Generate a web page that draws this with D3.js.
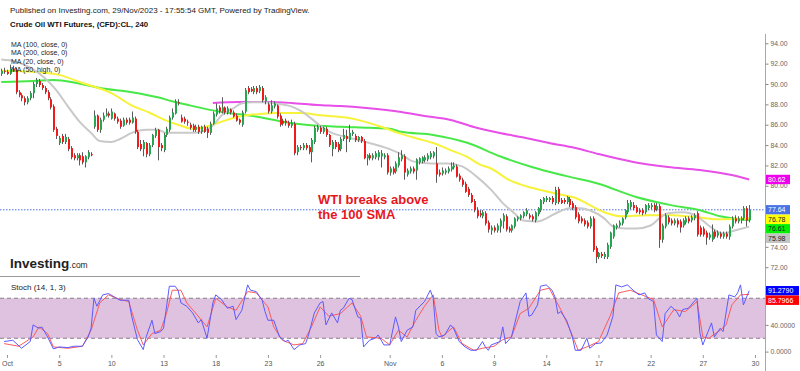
<!DOCTYPE html>
<html>
<head>
<meta charset="utf-8">
<script src="https://cdn.jsdelivr.net/npm/d3@7"></script>
<style>
  html, body { margin: 0; padding: 0; background: #fff; }
  svg { display: block; font-family: "Liberation Sans", Arial, sans-serif; }
</style>
</head>
<body>
<div id="chart"></div>
<script>
// 4h bars, bar 0 = first bar of Oct 2 (6 bars a day)
const firstBar = -2;

const open = [
  91.0, 91.3,
  91.2, 91.0, 91.5, 91.4, 89.2, 88.9,
  88.6, 88.2, 88.6, 89.1, 90.0, 90.3,
  89.9, 89.6, 89.2, 88.5, 87.8, 85.6,
  84.2, 84.9, 84.3, 84.6, 83.7, 83.0,
  82.7, 83.0, 82.9, 82.3, 82.8, 83.1,
  85.8, 86.9, 85.5, 86.5, 86.9, 87.1,
  86.6, 87.1, 86.6, 86.4, 85.9, 86.5,
  86.5, 86.2, 86.6, 85.3, 84.1, 83.6,
  84.2, 83.1, 84.0, 84.9, 85.5, 84.0,
  83.5, 85.0, 85.5, 86.7, 87.1, 88.2,
  86.7, 86.6, 86.3, 86.0, 85.9, 85.5,
  85.8, 85.3, 85.8, 85.6, 85.2, 86.1,
  87.0, 87.7, 87.3, 87.7, 87.2, 87.5,
  87.2, 86.9, 86.5, 86.0, 87.3, 89.6,
  89.5, 89.2, 89.6, 89.3, 89.6, 88.3,
  88.0, 87.3, 87.8, 87.9, 86.9, 86.4,
  86.4, 86.2, 85.9, 86.1, 83.3, 83.8,
  83.7, 84.0, 83.8, 83.3, 84.3, 85.5,
  85.7, 85.3, 85.6, 85.0, 83.6, 84.3,
  84.1, 83.6, 84.6, 84.9, 84.5, 85.1,
  84.9, 84.5, 84.8, 84.4, 82.7, 83.0,
  82.7, 82.8, 82.8, 82.9, 82.8, 83.0,
  81.3, 81.7, 81.4, 82.0, 82.6, 82.9,
  81.1, 81.4, 81.7, 81.5, 82.3, 82.4,
  82.5, 82.6, 82.8, 82.9, 82.2, 81.3,
  81.2, 81.3, 81.4, 81.6, 81.8, 81.9,
  81.0, 80.6, 80.2, 79.7, 79.1, 78.5,
  77.6, 77.3, 77.0, 77.3, 76.4, 75.6,
  75.9, 75.6, 76.0, 76.5, 77.0, 75.8,
  75.6, 76.0, 76.7, 76.8, 77.0, 77.2,
  77.1, 77.0, 76.6, 77.2, 77.6, 78.4,
  78.6, 78.6, 78.8, 78.3, 79.7, 78.6,
  78.6, 78.4, 78.7, 78.3, 77.9, 77.2,
  76.8, 76.6, 76.4, 76.0, 76.8, 73.9,
  73.0, 73.3, 73.0, 73.0, 74.0, 75.0,
  75.9, 76.1, 76.3, 76.9, 77.4, 77.9,
  78.1, 77.9, 77.6, 77.6, 77.4, 77.8,
  77.9, 78.1, 77.7, 78.0, 74.7, 76.0,
  76.9, 76.6, 76.3, 76.6, 76.5, 76.1,
  76.4, 76.8, 76.6, 76.8, 77.3, 75.9,
  75.8, 75.4, 74.9, 74.7, 75.5, 75.1,
  75.3, 75.0, 75.3, 75.0, 76.0, 76.8,
  76.5, 76.6, 76.8, 77.8, 76.6
];
const high = [
  91.5, 91.6,
  91.4, 91.9, 91.8, 91.6, 89.4, 89.1,
  88.8, 88.8, 89.3, 90.2, 90.6, 90.5,
  90.1, 89.8, 89.4, 88.7, 88.0, 85.8,
  84.9, 85.1, 85.1, 84.8, 83.9, 83.2,
  83.2, 83.2, 83.3, 83.0, 83.5, 83.3,
  87.4, 87.0, 86.7, 87.2, 87.6, 87.3,
  87.6, 87.2, 86.8, 86.6, 86.7, 86.7,
  86.7, 87.3, 86.8, 85.5, 84.5, 84.5,
  84.3, 84.2, 85.1, 85.7, 85.6, 84.2,
  85.2, 85.8, 86.9, 87.6, 88.5, 88.5,
  87.0, 86.8, 86.5, 86.2, 86.1, 86.0,
  86.0, 85.9, 86.0, 85.8, 86.3, 87.3,
  88.1, 87.9, 88.7, 87.8, 87.8, 87.6,
  87.4, 87.1, 86.6, 87.4, 89.6, 89.8,
  89.7, 89.8, 89.8, 89.9, 89.8, 88.9,
  88.2, 88.4, 88.3, 88.0, 87.1, 86.6,
  86.6, 86.4, 86.5, 86.3, 84.0, 84.0,
  84.2, 84.2, 84.0, 84.7, 85.9, 86.0,
  85.9, 85.8, 85.8, 85.1, 84.5, 84.5,
  84.3, 84.8, 85.6, 85.5, 86.0, 85.5,
  85.1, 84.9, 84.9, 84.6, 83.1, 83.2,
  83.2, 83.4, 83.5, 83.5, 83.2, 83.2,
  81.9, 81.9, 82.4, 83.3, 83.5, 83.1,
  81.7, 81.9, 81.9, 82.7, 82.8, 82.9,
  83.0, 83.2, 83.4, 83.4, 83.8, 81.6,
  81.8, 81.7, 81.9, 82.3, 82.3, 82.1,
  81.2, 80.8, 80.4, 79.9, 79.3, 78.7,
  77.9, 77.6, 77.6, 77.5, 76.6, 76.1,
  76.1, 76.3, 76.8, 77.3, 77.2, 76.0,
  76.2, 76.9, 77.0, 77.2, 77.5, 77.8,
  77.3, 77.2, 77.5, 77.9, 78.7, 78.9,
  79.0, 78.9, 79.0, 79.9, 79.9, 78.8,
  78.8, 79.0, 78.9, 78.5, 78.1, 77.4,
  77.0, 76.8, 76.6, 77.0, 77.0, 74.1,
  73.5, 73.5, 73.5, 74.4, 75.5, 76.2,
  76.3, 76.6, 76.9, 77.7, 78.6, 78.6,
  78.4, 78.1, 77.8, 77.8, 78.2, 78.3,
  78.3, 78.3, 78.3, 78.2, 76.3, 77.3,
  77.1, 76.8, 76.8, 76.8, 76.7, 76.8,
  77.0, 77.0, 77.1, 77.3, 77.5, 76.1,
  76.0, 75.6, 75.4, 76.2, 75.7, 75.6,
  75.5, 75.5, 75.5, 76.2, 77.0, 77.1,
  77.0, 77.0, 78.0, 78.0, 78.1
];
const low = [
  90.8, 91.0,
  90.9, 90.9, 91.2, 89.0, 88.7, 88.3,
  87.9, 88.0, 88.4, 88.6, 89.7, 89.7,
  89.4, 89.0, 88.4, 87.5, 85.3, 84.6,
  84.0, 84.1, 84.1, 83.4, 82.6, 82.5,
  82.5, 82.0, 82.1, 81.8, 82.6, 82.9,
  85.6, 85.3, 85.2, 86.3, 86.8, 86.7,
  86.5, 86.4, 86.1, 85.6, 85.8, 86.0,
  86.0, 86.1, 85.1, 83.6, 83.4, 82.9,
  82.8, 82.9, 83.8, 84.7, 82.5, 83.4,
  83.3, 84.8, 85.3, 86.5, 87.0, 87.9,
  86.2, 86.1, 85.9, 85.5, 85.3, 85.3,
  85.1, 85.1, 85.2, 84.7, 85.0, 86.0,
  86.8, 87.1, 87.1, 87.0, 87.0, 87.0,
  86.7, 86.3, 86.0, 85.8, 87.1, 89.0,
  89.2, 89.0, 89.0, 89.1, 88.2, 88.0,
  87.1, 87.1, 87.6, 86.6, 85.8, 85.9,
  85.9, 85.7, 85.7, 83.0, 83.0, 83.5,
  83.5, 83.5, 83.1, 82.3, 84.1, 85.3,
  85.1, 85.1, 84.8, 83.8, 82.9, 83.6,
  83.3, 83.4, 84.4, 83.3, 84.3, 84.9,
  84.3, 84.3, 84.2, 82.6, 82.0, 82.5,
  82.5, 82.6, 82.5, 81.8, 82.6, 81.1,
  81.0, 81.1, 81.2, 81.8, 82.4, 80.6,
  80.9, 81.2, 81.2, 80.6, 82.1, 82.2,
  82.3, 82.4, 82.6, 82.7, 80.3, 80.9,
  81.0, 81.1, 81.2, 81.4, 81.6, 80.8,
  80.4, 79.9, 79.3, 78.9, 78.3, 77.4,
  76.8, 76.9, 76.8, 76.1, 75.4, 75.2,
  75.4, 75.4, 75.4, 75.8, 75.5, 75.4,
  75.4, 75.8, 76.5, 76.6, 76.8, 77.0,
  76.7, 76.5, 76.4, 77.0, 77.4, 78.2,
  78.4, 78.4, 78.2, 78.1, 78.2, 78.2,
  78.2, 78.2, 77.9, 77.6, 76.7, 76.3,
  76.3, 76.0, 75.8, 75.8, 73.5, 72.4,
  72.8, 72.9, 72.8, 72.8, 73.8, 74.8,
  75.7, 75.9, 76.1, 76.7, 77.2, 77.7,
  77.6, 77.3, 77.2, 77.1, 77.2, 77.6,
  77.7, 77.4, 77.5, 73.9, 74.4, 75.8,
  76.2, 76.1, 76.1, 75.9, 75.4, 75.9,
  76.2, 76.3, 76.4, 76.6, 75.0, 75.0,
  75.0, 74.2, 74.7, 74.5, 74.8, 74.9,
  74.8, 74.8, 74.8, 74.7, 75.8, 76.3,
  76.3, 76.3, 76.6, 76.0, 76.4
];
const close = [
  91.3, 91.2,
  91.0, 91.5, 91.4, 89.2, 88.9, 88.6,
  88.2, 88.6, 89.1, 90.0, 90.4, 89.9,
  89.6, 89.2, 88.6, 87.7, 85.5, 84.9,
  84.7, 84.3, 84.8, 83.6, 82.8, 82.7,
  83.0, 82.5, 82.3, 82.9, 83.3, 83.0,
  86.9, 85.5, 86.5, 86.9, 87.1, 86.9,
  87.3, 86.6, 86.3, 85.8, 86.5, 86.2,
  86.2, 86.7, 85.3, 83.8, 83.6, 84.3,
  83.1, 84.0, 85.0, 85.5, 83.8, 83.7,
  85.0, 85.6, 86.7, 87.2, 88.3, 88.1,
  86.3, 86.3, 86.2, 85.7, 85.5, 85.8,
  85.3, 85.8, 85.3, 85.2, 86.1, 87.1,
  87.6, 87.3, 87.7, 87.2, 87.6, 87.2,
  86.8, 86.4, 86.2, 87.2, 89.4, 89.2,
  89.3, 89.6, 89.2, 89.7, 88.4, 88.7,
  87.3, 87.9, 88.1, 86.8, 86.0, 86.1,
  86.2, 85.9, 86.2, 83.2, 83.8, 83.7,
  84.0, 83.7, 83.3, 84.5, 85.7, 85.8,
  85.3, 85.7, 85.0, 84.0, 84.3, 83.8,
  83.5, 84.6, 85.0, 84.6, 85.2, 85.3,
  84.5, 84.8, 84.4, 82.7, 83.0, 82.7,
  83.0, 83.2, 83.3, 83.2, 83.0, 81.3,
  81.7, 81.3, 82.2, 82.8, 83.0, 81.3,
  81.5, 81.7, 81.4, 82.6, 82.7, 82.8,
  82.8, 83.0, 83.2, 83.3, 81.1, 81.1,
  81.5, 81.5, 81.7, 81.9, 82.0, 80.9,
  80.6, 80.1, 79.4, 79.1, 78.4, 77.6,
  77.0, 77.1, 77.4, 76.3, 75.7, 75.9,
  75.6, 76.1, 76.6, 77.1, 75.7, 75.6,
  76.1, 76.8, 76.9, 77.1, 77.4, 77.6,
  76.9, 76.7, 77.4, 77.8, 78.6, 78.8,
  78.8, 78.8, 78.4, 79.6, 78.4, 78.3,
  78.4, 78.9, 78.1, 77.8, 76.9, 76.5,
  76.5, 76.2, 76.0, 76.8, 73.7, 73.0,
  73.4, 73.1, 73.3, 74.2, 75.4, 76.1,
  76.1, 76.4, 76.8, 77.6, 78.3, 78.4,
  77.8, 77.4, 77.4, 77.3, 78.1, 78.1,
  78.1, 77.6, 78.0, 74.7, 76.1, 77.1,
  76.4, 76.3, 76.6, 76.2, 75.9, 76.6,
  76.8, 76.5, 76.9, 77.1, 75.2, 75.2,
  75.2, 74.9, 75.2, 75.5, 75.0, 75.4,
  75.0, 75.3, 75.0, 76.0, 76.8, 76.5,
  76.8, 76.8, 77.8, 76.6, 77.64
];

// moving averages, [bar, price]
const ma20 = [[-2,92.4],[3,92.2],[8,91.6],[13,90.6],[17,89.4],[21,87.8],[25,86.3],[29,85.2],[32,84.4],[36,84.3],[39,84.6],[43,85.2],[48,85.5],[52,85.5],[55,85.2],[60,85.2],[65,85.2],[68,85.4],[71,85.9],[74,86.9],[78,87.6],[81,88.1],[85,88.2],[88,88.2],[92,88.1],[98,87.8],[101,87.4],[105,86.6],[108,85.9],[112,85.2],[117,84.8],[121,84.5],[125,84.2],[130,83.8],[136,83.1],[140,82.4],[146,82.2],[152,82.2],[157,81.9],[162,80.9],[167,79.6],[171,78.3],[175,77.3],[178,76.6],[183,76.5],[186,76.8],[190,77.4],[194,77.8],[198,77.8],[201,77.6],[206,76.8],[209,76.0],[213,75.8],[217,75.8],[222,76.1],[225,76.8],[228,77.3],[233,77.4],[238,77.0],[242,76.1],[247,75.3],[251,75.6],[256,75.98]];
const ma50 = [[-2,91.3],[9,91.2],[18,90.9],[26,90.1],[36,89.1],[43,87.9],[49,87.2],[55,86.4],[60,85.9],[64,85.6],[67,85.7],[73,86.2],[80,86.8],[87,87.05],[94,87.15],[101,87.15],[109,86.9],[117,86.7],[122,86.4],[129,85.8],[136,85.1],[142,84.6],[147,84.2],[153,83.5],[159,82.8],[163,82.1],[167,81.7],[173,80.6],[181,79.8],[190,79.2],[197,78.7],[201,78.1],[206,77.4],[212,77.0],[221,77.1],[229,77.1],[238,76.9],[246,76.7],[256,76.78]];
const ma100 = [[-2,90.2],[9,90.3],[16,90.4],[24,90.1],[32,89.6],[43,89.2],[52,88.7],[57,88.3],[63,87.9],[74,87.25],[86,86.8],[95,86.3],[103,86.0],[115,85.8],[125,85.7],[132,85.6],[136,85.3],[147,85.0],[159,84.2],[170,82.9],[181,81.85],[193,80.95],[204,80.2],[217,78.9],[229,78.1],[239,77.6],[246,77.0],[256,76.61]];
const ma200 = [[71,88.14],[80,88.23],[90,88.23],[98,88.14],[107,87.94],[115,87.84],[124,87.64],[136,87.25],[144,86.86],[153,86.47],[161,85.78],[170,85.19],[179,84.7],[187,84.21],[196,83.72],[204,83.12],[216,82.34],[228,81.85],[239,81.55],[250,81.06],[256,80.62]];

// stochastic (14, 1, 3), [bar, value]
const stochK = [[-1,15],[2,17],[5,5],[8,15],[9,40],[11,35],[12,37],[14,22],[16,4],[18,7],[21,6],[23,8],[26,8],[28,22],[29,35],[30,80],[31,68],[33,85],[35,87],[37,82],[39,77],[42,77],[43,53],[45,18],[47,3],[48,22],[50,47],[51,27],[53,30],[54,35],[56,98],[58,98],[59,92],[60,73],[62,68],[64,58],[66,43],[67,48],[69,20],[71,73],[72,85],[74,78],[76,65],[78,68],[79,48],[81,62],[83,100],[84,92],[86,90],[88,77],[89,60],[90,47],[92,47],[94,22],[96,15],[97,17],[99,3],[101,10],[103,12],[104,25],[106,58],[108,73],[109,75],[110,40],[112,58],[114,43],[115,62],[116,65],[118,80],[119,78],[121,52],[122,50],[123,7],[125,17],[127,20],[128,25],[130,10],[132,10],[134,52],[135,37],[136,15],[138,32],[140,37],[141,62],[144,75],[146,92],[147,80],[148,27],[149,22],[151,25],[153,40],[154,35],[156,15],[158,7],[160,2],[162,2],[164,15],[165,7],[166,2],[167,10],[170,15],[171,37],[172,12],[174,22],[175,40],[177,75],[179,88],[180,53],[181,55],[183,70],[184,98],[186,100],[188,92],[189,82],[190,57],[191,60],[193,47],[195,22],[196,2],[198,2],[200,20],[201,5],[203,12],[205,13],[207,25],[209,53],[210,100],[212,97],[214,100],[216,92],[218,85],[220,88],[221,80],[223,75],[224,25],[226,15],[227,57],[229,68],[231,60],[232,52],[233,63],[235,65],[238,80],[239,28],[240,10],[243,43],[244,22],[246,35],[247,30],[249,85],[251,82],[252,88],[253,100],[254,70],[256,91.279]];
const stochD = [[-1,12],[4,8],[9,22],[11,37],[14,27],[16,7],[21,5],[26,8],[29,32],[32,73],[35,85],[39,78],[42,75],[45,32],[47,10],[50,27],[53,32],[55,57],[57,92],[60,92],[62,73],[65,58],[69,37],[72,80],[76,67],[79,62],[83,90],[86,88],[90,67],[92,37],[95,17],[99,10],[102,12],[105,37],[108,67],[111,53],[115,57],[119,73],[122,53],[124,22],[129,20],[132,10],[135,32],[138,22],[141,47],[144,68],[147,85],[149,32],[150,22],[154,37],[157,12],[161,2],[164,5],[168,8],[171,18],[174,22],[177,57],[180,65],[184,92],[187,95],[191,63],[194,35],[197,2],[200,7],[204,15],[208,53],[211,88],[215,92],[219,85],[223,78],[226,37],[230,63],[234,60],[238,75],[240,22],[242,20],[246,32],[248,40],[250,70],[253,85],[256,85.7966]];

const priceTicks = [72, 74, 76, 78, 80, 82, 84, 86, 88, 90, 92, 94];
const stochTicks = [0, 40];
const tickBars = [0, 18, 36, 54, 72, 90, 108, 132, 150, 168, 186, 204, 222, 240, 258];
const tickLabels = ['Oct', '5', '10', '13', '18', '23', '26', 'Nov', '6', '9', '14', '17', '22', '27', '30'];
const maLegend = ['MA (100, close, 0)', 'MA (200, close, 0)', 'MA (20, close, 0)', 'MA (50, high, 0)'];

const width = 800, height = 371;
const axisX = 765;

const svg = d3.select('#chart').append('svg')
    .attr('width', width)
    .attr('height', height);

svg.append('rect').attr('width', width).attr('height', height).attr('fill', '#fff');

const x = d3.scaleLinear().domain([0, 258]).range([7, 755]);
const y = d3.scaleLinear().domain([72, 94]).range([267.2, 43.3]);
const yS = d3.scaleLinear().domain([0, 100]).range([351.6, 284.9]);

svg.append('clipPath').attr('id', 'plot')
    .append('rect').attr('x', 0).attr('y', 30).attr('width', axisX).attr('height', 341);

// stoch band
const stochG = svg.append('g').attr('clip-path', 'url(#plot)');
stochG.append('rect')
    .attr('x', 0).attr('width', axisX)
    .attr('y', yS(80)).attr('height', yS(20) - yS(80))
    .attr('fill', '#dec2df');
stochG.selectAll('line.band')
    .data([80, 20])
    .enter().append('line')
    .attr('class', 'band')
    .attr('x1', 0).attr('x2', axisX)
    .attr('y1', d => yS(d)).attr('y2', d => yS(d))
    .attr('stroke', '#8a7f8a')
    .attr('stroke-dasharray', '4,3');

const sLine = d3.line().x(d => x(d[0])).y(d => yS(d[1]));
stochG.append('path').datum(stochD)
    .attr('d', sLine).attr('fill', 'none')
    .attr('stroke', '#ff5a5a').attr('stroke-width', 1);
stochG.append('path').datum(stochK)
    .attr('d', sLine).attr('fill', 'none')
    .attr('stroke', '#5b5bff').attr('stroke-width', 1);

svg.append('text')
    .attr('x', 11).attr('y', 289.5)
    .attr('font-size', '8px').attr('fill', '#222')
    .text('Stoch (14, 1, 3)');

// price panel
const priceG = svg.append('g').attr('clip-path', 'url(#plot)');

// last price line
priceG.append('line')
    .attr('x1', 0).attr('x2', axisX)
    .attr('y1', y(77.64)).attr('y2', y(77.64))
    .attr('stroke', '#4a6ee0').attr('stroke-width', 1)
    .attr('stroke-dasharray', '1.5,1.5');

const maLine = d3.line().x(d => x(d[0])).y(d => y(d[1])).curve(d3.curveMonotoneX);
const maDefs = [
    {data: ma200, color: '#e84ee8'},
    {data: ma100, color: '#47e847'},
    {data: ma50, color: '#f7f23a'},
    {data: ma20, color: '#c9c9c9'}
];
maDefs.forEach(m => {
    priceG.append('path').datum(m.data)
        .attr('d', maLine).attr('fill', 'none')
        .attr('stroke', m.color).attr('stroke-width', 2);
});

const bars = close.map((c, k) => ({
    i: firstBar + k, o: open[k], h: high[k], l: low[k], c: c
}));

const candle = priceG.selectAll('g.candle')
    .data(bars)
    .enter().append('g')
    .attr('class', 'candle');

candle.append('line')
    .attr('x1', d => Math.round(x(d.i)) + 0.5)
    .attr('x2', d => Math.round(x(d.i)) + 0.5)
    .attr('y1', d => y(d.h))
    .attr('y2', d => y(d.l))
    .attr('stroke', '#5a5a5a').attr('stroke-width', 1);

candle.append('rect')
    .attr('x', d => Math.round(x(d.i)))
    .attr('width', 2)
    .attr('y', d => y(Math.max(d.o, d.c)))
    .attr('height', d => Math.max(1, Math.abs(y(d.o) - y(d.c))))
    .attr('fill', d => d.c >= d.o ? '#26a650' : '#f01a1a');

// annotation
const note = svg.append('text')
    .attr('x', 318).attr('y', 204)
    .attr('font-size', '13px').attr('font-weight', 'bold')
    .attr('fill', '#e8161e');
note.append('tspan').attr('x', 318).attr('y', 204).text('WTI breaks above');
note.append('tspan').attr('x', 318).attr('y', 218.5).text('the 100 SMA');

// header
svg.append('text')
    .attr('x', 10).attr('y', 12.5)
    .attr('font-size', '8px').attr('fill', '#222')
    .text('Published on Investing.com, 29/Nov/2023 - 17:55:54 GMT, Powered by TradingView.');
svg.append('text')
    .attr('x', 10).attr('y', 26.5)
    .attr('font-size', '7.8px').attr('font-weight', 'bold').attr('fill', '#111')
    .text('Crude Oil WTI Futures, (CFD):CL, 240');

svg.append('g').selectAll('text')
    .data(maLegend)
    .enter().append('text')
    .attr('x', 11)
    .attr('y', (d, i) => 47 + i * 8.3)
    .attr('font-size', '7px').attr('fill', '#222')
    .text(d => d);

// watermark
const logo = svg.append('text')
    .attr('x', 10).attr('y', 268)
    .attr('fill', '#222');
logo.append('tspan').attr('font-size', '13.5px').attr('font-weight', 'bold').text('Investing');
logo.append('tspan').attr('font-size', '8.5px').text('.com');
svg.append('line')
    .attr('x1', 0).attr('x2', 360)
    .attr('y1', 276.5).attr('y2', 276.5)
    .attr('stroke', '#9a9a9a');

// right axis
svg.append('line')
    .attr('x1', axisX + 0.5).attr('x2', axisX + 0.5)
    .attr('y1', 34).attr('y2', height)
    .attr('stroke', '#a8a8a8');

const yAxis = d3.axisRight(y).tickValues(priceTicks).tickFormat(d3.format('.2f')).tickSize(3).tickPadding(2);
const sAxis = d3.axisRight(yS).tickValues(stochTicks).tickFormat(d3.format('.4f')).tickSize(3).tickPadding(2);

const axisGroups = [[yAxis, y], [sAxis, yS]].map(([ax, sc]) => {
    const g = svg.append('g')
        .attr('transform', `translate(${axisX + 0.5},0)`)
        .call(ax);
    g.select('.domain').remove();
    g.selectAll('line').attr('stroke', '#888');
    g.selectAll('text').attr('font-size', '6.8px').attr('fill', '#666')
        .attr('font-family', '"Liberation Sans", Arial, sans-serif');
    return {g, sc};
});

// x axis
const xAxis = d3.axisBottom(x).tickValues(tickBars)
    .tickFormat((d, i) => tickLabels[i]).tickSize(3).tickPadding(3);
const xg = svg.append('g').attr('transform', 'translate(0,355)').call(xAxis);
xg.select('.domain').remove();
xg.selectAll('line').attr('stroke', '#999');
xg.selectAll('text').attr('font-size', '7px').attr('fill', '#555')
    .attr('font-family', '"Liberation Sans", Arial, sans-serif');

// value badges (they cover the axis labels underneath)
const spans = [];
function badges(list, scale, w) {
    list.sort((a, b) => scale(a.v) - scale(b.v));
    let prev = -Infinity;
    list.forEach(b => {
        let cy = Math.max(scale(b.v), prev + 9.5);
        prev = cy;
        spans.push([cy - 4.7, cy + 4.7]);
        svg.append('rect')
            .attr('x', axisX + 1).attr('y', cy - 4.7)
            .attr('width', w).attr('height', 9.4)
            .attr('fill', b.bg);
        svg.append('text')
            .attr('x', axisX + 3).attr('y', cy + 2.5)
            .attr('font-size', '7px').attr('fill', b.fg)
            .text(b.label);
    });
}
badges([
    {v: 80.62, label: '80.62', bg: '#ee00ee', fg: '#fff'},
    {v: 77.64, label: '77.64', bg: '#4a72e4', fg: '#fff'},
    {v: 76.78, label: '76.78', bg: '#ffff00', fg: '#222'},
    {v: 76.61, label: '76.61', bg: '#00f000', fg: '#222'},
    {v: 75.98, label: '75.98', bg: '#c4c4c4', fg: '#222'}
], y, 24);
badges([
    {v: 91.279, label: '91.2790', bg: '#0000ff', fg: '#fff'},
    {v: 85.7966, label: '85.7966', bg: '#ff0000', fg: '#fff'}
], yS, 33);

// labels hidden behind a badge are not drawn
axisGroups.forEach(({g, sc}) => {
    g.selectAll('.tick').filter(d => spans.some(s => sc(d) > s[0] && sc(d) < s[1]))
        .select('text').remove();
});
</script>
</body>
</html>
